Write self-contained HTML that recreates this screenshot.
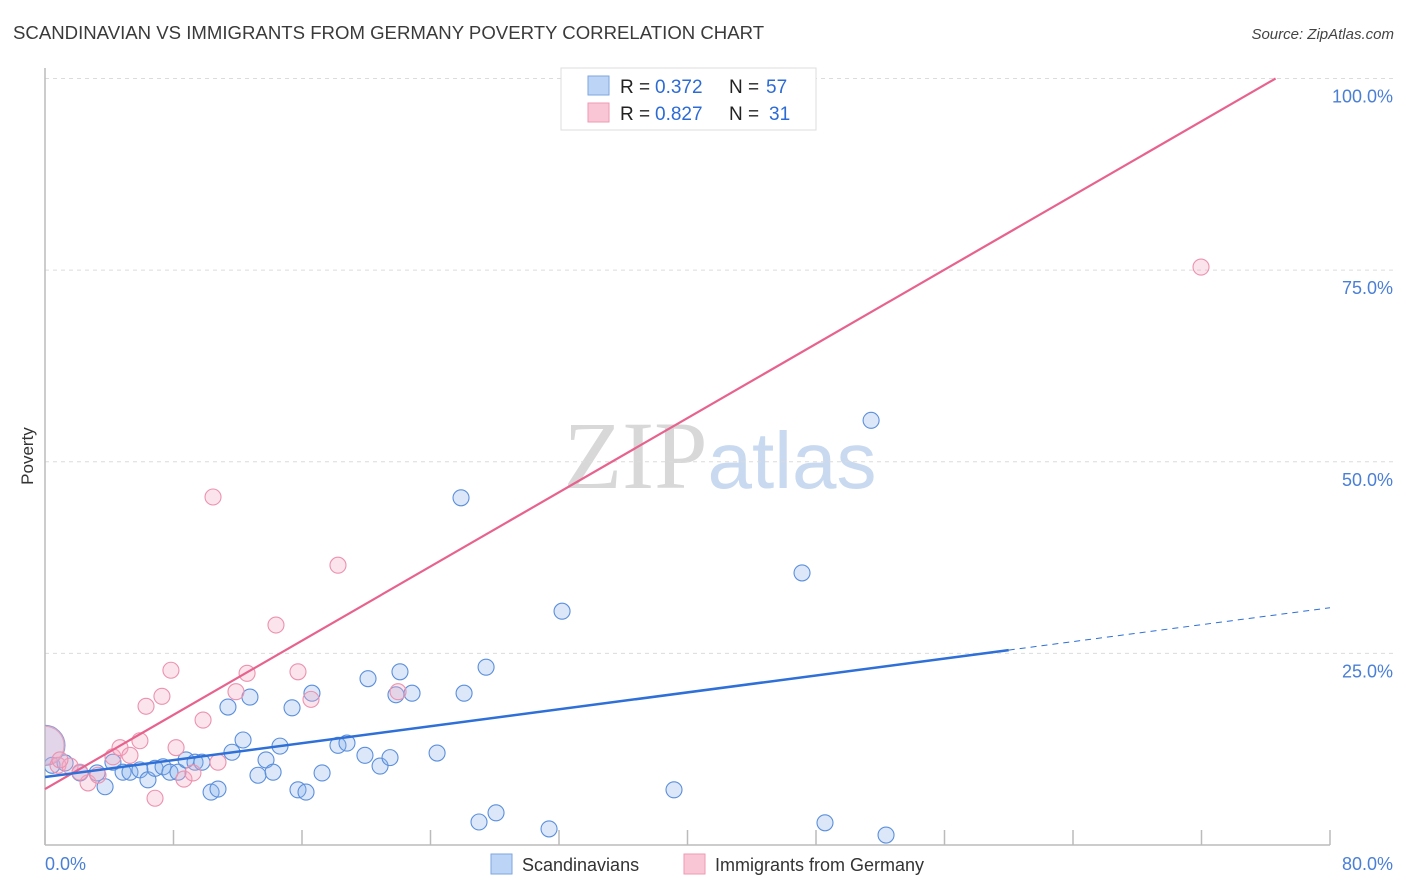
<!DOCTYPE html>
<html><head><meta charset="utf-8"><style>
body{margin:0;background:#fff;font-family:"Liberation Sans",sans-serif;}
svg{display:block}
</style></head><body>
<svg id="chart" width="1406" height="892" xmlns="http://www.w3.org/2000/svg" font-family="Liberation Sans, sans-serif">
<defs><clipPath id="plotclip"><rect x="45" y="60" width="1360" height="786"/></clipPath></defs>
<text x="13" y="39" font-size="18.6" fill="#3a3a3a">SCANDINAVIAN VS IMMIGRANTS FROM GERMANY POVERTY CORRELATION CHART</text>
<text x="1394" y="39" font-size="15" fill="#444" font-style="italic" text-anchor="end">Source: ZipAtlas.com</text>
<text x="720" y="488" font-size="96" text-anchor="middle"><tspan fill="#d8d8d8" font-family="Liberation Serif, serif">ZIP</tspan><tspan fill="#c8d9f0" font-size="80">atlas</tspan></text>
<text x="33" y="456" font-size="17" fill="#333" text-anchor="middle" transform="rotate(-90 33 456)">Poverty</text>
<g id="grid"></g><g id="axes"></g><g id="pts" clip-path="url(#plotclip)"></g><g id="lines"></g>
<g>
<rect x="561" y="68" width="255" height="62" fill="#fff" stroke="#ddd"/>
<rect x="588" y="76" width="21" height="19" fill="#bcd4f5" stroke="#7ea6e0"/>
<rect x="588" y="103" width="21" height="19" fill="#f9c6d5" stroke="#ee9ab3"/>
<text y="93" font-size="19" fill="#222"><tspan x="620">R =</tspan><tspan x="655" fill="#2d6bd4">0.372</tspan><tspan x="729">N =</tspan><tspan x="766" fill="#2d6bd4">57</tspan></text>
<text y="120" font-size="19" fill="#222"><tspan x="620">R =</tspan><tspan x="655" fill="#2d6bd4">0.827</tspan><tspan x="729">N =</tspan><tspan x="769" fill="#2d6bd4">31</tspan></text>
</g>
<g>
<rect x="491" y="854" width="21" height="20" fill="#bcd4f5" stroke="#7ea6e0"/>
<text x="522" y="871" font-size="18" fill="#333">Scandinavians</text>
<rect x="684" y="854" width="21" height="20" fill="#f9c6d5" stroke="#ee9ab3"/>
<text x="715" y="871" font-size="18" fill="#333">Immigrants from Germany</text>
</g>
</svg>
<script>
const xTicks=[0,8,16,24,32,40,48,56,64,72,80];
const yTicks=[25,50,75,100];
const yTickLabels=["25.0%","50.0%","75.0%","100.0%"];
const xEndLabels=["0.0%","80.0%"];
const blueX=[0.44,1.25,2.18,3.24,3.74,4.23,4.86,5.29,5.91,6.41,6.85,7.35,7.78,8.28,8.78,9.34,9.77,10.34,10.77,11.39,11.64,12.33,12.76,13.26,13.76,14.20,14.63,15.38,15.75,16.25,16.62,17.25,18.24,18.80,19.92,20.11,20.86,21.48,21.85,22.10,22.85,24.41,25.90,26.09,27.02,27.46,28.08,31.38,32.19,39.16,47.13,48.56,51.43,52.36,0];
const blueY=[10.4,10.7,9.4,9.4,7.6,10.8,9.5,9.5,9.8,8.5,10.0,10.2,9.5,9.5,11.1,10.8,10.8,6.9,7.3,18.0,12.1,13.7,19.3,9.1,11.1,9.5,12.9,17.9,7.2,6.9,19.8,9.4,13.0,13.3,11.7,21.7,10.3,11.4,19.6,22.6,19.8,12.0,45.3,19.8,3.0,23.2,4.2,2.1,30.5,7.2,35.5,2.9,55.4,1.3,13.0];
const blueR=[8,8,8,8,8,8,8,8,8,8,8,8,8,8,8,8,8,8,8,8,8,8,8,8,8,8,8,8,8,8,8,8,8,8,8,8,8,8,8,8,8,8,8,8,8,8,8,8,8,8,8,8,8,8,20];
const pinkX=[0,0.81,1.56,2.68,3.30,4.23,4.67,5.29,5.91,6.29,6.85,7.28,7.84,8.16,8.65,9.21,9.84,10.46,10.77,11.89,12.58,14.38,15.75,16.56,18.24,21.98,71.97,0.93,2.18];
const pinkY=[13.0,10.4,10.3,8.1,9.1,11.5,12.7,11.7,13.6,18.1,6.1,19.4,22.8,12.7,8.6,9.4,16.3,45.4,10.8,20.0,22.4,28.7,22.6,19.0,36.5,20.0,75.4,11.1,9.5];
const blueLine=[8.87,0.276]; const pinkLine=[7.3,1.21];
const NS="http://www.w3.org/2000/svg";
const X=v=>45+v/80*1285, Y=v=>845-v*7.665;
function mk(tag,attrs,parent){const e=document.createElementNS(NS,tag);for(const k in attrs)e.setAttribute(k,attrs[k]);document.getElementById(parent).appendChild(e);return e;}
yTicks.forEach((t,i)=>{
 let g=mk('line',{x1:45,x2:1393,y1:Y(t),y2:Y(t),stroke:'#dcdcdc','stroke-dasharray':'4,4'},'grid');
 
 
 let l=mk('text',{x:1393,y:Y(t)+24,'font-size':18,fill:'#4a7fd6','text-anchor':'end'},'grid');l.textContent=yTickLabels[i];
 
 
});
let ya=mk('line',{x1:45,x2:45,y1:68,y2:845,stroke:'#bbb','stroke-width':1.5},'axes');


let xa=mk('line',{x1:45,x2:1330,y1:845,y2:845,stroke:'#bbb','stroke-width':1.5},'axes');


xTicks.forEach(t=>{let k=mk('line',{x1:X(t),x2:X(t),y1:830,y2:845,stroke:'#bbb','stroke-width':1.5},'axes');
 
 });
let a=mk('text',{x:45,y:870,'font-size':18,fill:'#4a7fd6'},'axes');a.textContent=xEndLabels[0];


let b=mk('text',{x:1393,y:870,'font-size':18,fill:'#4a7fd6','text-anchor':'end'},'axes');b.textContent=xEndLabels[1];


blueX.forEach((x,i)=>{let c=mk('circle',{cx:X(x),cy:Y(blueY[i]),r:blueR[i],fill:'rgba(140,180,235,0.3)',stroke:'#5b8fdc','stroke-width':1.1},'pts');
 if(blueR[i]>10){c.setAttribute('fill','rgba(180,170,215,0.35)');c.setAttribute('stroke','#9a9ad0');}
 
 });
pinkX.forEach((x,i)=>{let c=mk('circle',{cx:X(x),cy:Y(pinkY[i]),r:i===0?19:8,fill:i===0?'rgba(220,180,210,0.25)':'rgba(245,170,195,0.32)',stroke:i===0?'#e0a8c0':'#ec92ae','stroke-width':1.1},'pts');
 
 });
let xp=(100-pinkLine[0])/pinkLine[1];
let pl=mk('line',{x1:X(0),y1:Y(pinkLine[0]),x2:X(xp),y2:Y(100),stroke:'#e8628e','stroke-width':2.2},'lines');


let bl=mk('line',{x1:X(0),y1:Y(blueLine[0]),x2:X(60),y2:Y(blueLine[0]+60*blueLine[1]),stroke:'#2e6fd8','stroke-width':2.5},'lines');


let bd=mk('line',{x1:X(60),y1:Y(blueLine[0]+60*blueLine[1]),x2:X(80),y2:Y(blueLine[0]+80*blueLine[1]),stroke:'#2e6fd8','stroke-width':1,'stroke-dasharray':'6,5'},'lines');


</script>
</body></html>
